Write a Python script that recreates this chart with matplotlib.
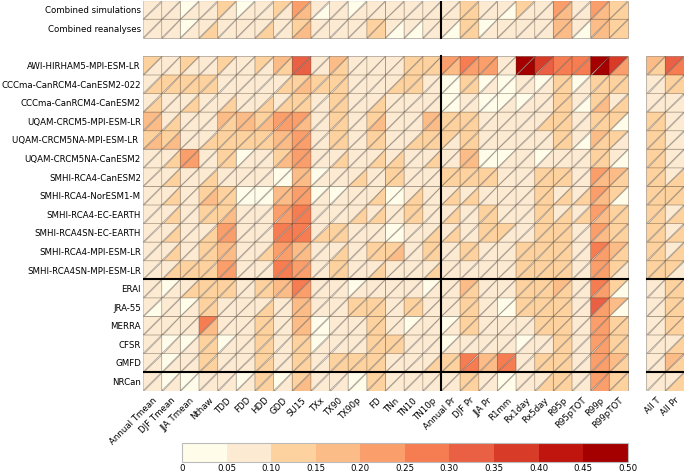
import numpy as np
import matplotlib
matplotlib.use('Agg')
import matplotlib.pyplot as plt
from matplotlib.colors import ListedColormap, BoundaryNorm
from matplotlib.collections import PolyCollection
from matplotlib.colorbar import ColorbarBase

# DATA
row_labels = ['Combined simulations', 'Combined reanalyses',
              'AWI-HIRHAM5-MPI-ESM-LR', 'CCCma-CanRCM4-CanESM2-022', 'CCCma-CanRCM4-CanESM2',
              'UQAM-CRCM5-MPI-ESM-LR', 'UQAM-CRCM5NA-MPI-ESM-LR ', 'UQAM-CRCM5NA-CanESM2',
              'SMHI-RCA4-CanESM2', 'SMHI-RCA4-NorESM1-M', 'SMHI-RCA4-EC-EARTH',
              'SMHI-RCA4SN-EC-EARTH', 'SMHI-RCA4-MPI-ESM-LR', 'SMHI-RCA4SN-MPI-ESM-LR',
              'ERAI', 'JRA-55', 'MERRA', 'CFSR', 'GMFD', 'NRCan']

index_labels = ['Annual Tmean', 'DJF Tmean', 'JJA Tmean', 'Nthaw', 'TDD', 'FDD', 'HDD', 'GDD',
                'SU15', 'TXx', 'TX90', 'TX90p', 'FD', 'TNn', 'TN10', 'TN10p',
                'Annual Pr', 'DJF Pr', 'JJA Pr', 'R1mm', 'Rx1day', 'Rx5day', 'R95p',
                'R95pTOT', 'R99p', 'R99pTOT']
summary_labels = ['All T', 'All Pr']

# upper-left triangle of each cell
upper = [
    [.08,.08,.03,.08,.12,.03,.08,.12,.22,.08,.08,.03,.08,.08,.08,.08,.08,.12,.08,.08,.12,.08,.22,.08,.22,.12],
    [.08,.08,.03,.08,.08,.08,.08,.08,.12,.08,.08,.08,.12,.08,.08,.08,.08,.12,.03,.08,.08,.08,.17,.08,.17,.12],
    [.12,.08,.12,.08,.12,.08,.12,.17,.32,.08,.17,.08,.08,.08,.12,.12,.22,.27,.22,.08,.47,.37,.27,.27,.47,.37,.17,.32],
    [.08,.12,.12,.12,.08,.08,.08,.08,.12,.12,.12,.08,.08,.08,.12,.08,.03,.12,.03,.03,.08,.03,.12,.03,.12,.12,.08,.12],
    [.08,.08,.08,.08,.08,.08,.08,.08,.12,.08,.12,.08,.08,.08,.08,.08,.03,.08,.03,.03,.03,.08,.12,.08,.12,.08,.08,.08],
    [.17,.08,.08,.08,.17,.17,.12,.22,.22,.08,.12,.08,.12,.08,.08,.17,.12,.12,.08,.08,.08,.08,.12,.08,.12,.12,.12,.08],
    [.12,.12,.08,.08,.12,.12,.12,.17,.22,.08,.12,.08,.12,.08,.08,.12,.12,.12,.08,.08,.08,.08,.12,.08,.17,.12,.12,.08],
    [.08,.08,.22,.08,.12,.03,.08,.12,.22,.08,.08,.08,.08,.08,.08,.08,.08,.17,.03,.03,.08,.03,.08,.08,.12,.08,.12,.08],
    [.08,.08,.08,.08,.08,.08,.08,.03,.17,.03,.08,.08,.08,.12,.08,.08,.12,.12,.12,.08,.08,.12,.12,.08,.22,.17,.12,.08],
    [.08,.08,.08,.12,.12,.03,.03,.17,.22,.03,.03,.08,.08,.03,.08,.08,.08,.08,.08,.08,.08,.12,.08,.08,.22,.12,.12,.12],
    [.08,.08,.08,.12,.12,.08,.08,.22,.27,.08,.08,.08,.08,.08,.12,.08,.08,.08,.12,.08,.08,.12,.08,.08,.22,.12,.12,.08],
    [.08,.08,.08,.08,.22,.08,.08,.27,.27,.08,.12,.08,.08,.03,.08,.08,.08,.08,.12,.12,.08,.12,.12,.08,.22,.12,.12,.08],
    [.08,.08,.08,.12,.17,.08,.08,.22,.17,.08,.08,.08,.12,.12,.08,.12,.08,.12,.08,.08,.12,.12,.12,.08,.27,.17,.12,.08],
    [.08,.08,.12,.12,.22,.08,.08,.27,.22,.08,.12,.08,.08,.08,.08,.08,.08,.08,.08,.08,.12,.12,.12,.08,.22,.12,.12,.12],
    [.08,.03,.08,.12,.12,.08,.12,.17,.27,.08,.08,.03,.08,.08,.08,.03,.08,.17,.08,.08,.12,.12,.17,.08,.27,.12,.08,.12],
    [.08,.08,.03,.12,.08,.08,.08,.08,.17,.08,.08,.12,.12,.08,.12,.08,.08,.12,.08,.03,.12,.12,.12,.08,.32,.17,.08,.12],
    [.08,.08,.08,.27,.08,.08,.12,.08,.17,.03,.08,.08,.12,.08,.03,.08,.03,.12,.08,.08,.08,.12,.12,.08,.22,.12,.08,.12],
    [.08,.03,.03,.12,.03,.08,.12,.08,.12,.03,.08,.08,.12,.12,.08,.08,.03,.08,.08,.08,.03,.08,.12,.08,.22,.12,.08,.08],
    [.08,.03,.08,.12,.08,.08,.12,.08,.12,.08,.12,.12,.12,.08,.08,.08,.12,.27,.17,.27,.08,.12,.12,.08,.22,.17,.08,.17],
    [.08,.03,.03,.08,.08,.03,.12,.03,.12,.08,.08,.03,.12,.08,.08,.08,.08,.12,.08,.03,.08,.08,.12,.08,.22,.12,.08,.08],
]

# lower-right triangle of each cell
lower = [
    [.08,.08,.08,.08,.08,.08,.08,.08,.17,.03,.08,.08,.08,.08,.08,.08,.08,.12,.08,.03,.08,.08,.17,.08,.17,.12],
    [.08,.08,.08,.12,.08,.08,.12,.08,.17,.08,.08,.08,.12,.03,.03,.08,.03,.12,.08,.08,.08,.08,.17,.03,.17,.12],
    [.08,.08,.08,.08,.08,.08,.08,.12,.32,.08,.12,.08,.08,.08,.12,.12,.17,.22,.22,.08,.47,.32,.27,.27,.47,.22,.12,.27],
    [.12,.12,.12,.12,.08,.08,.08,.12,.17,.12,.12,.08,.08,.12,.12,.08,.03,.12,.08,.03,.08,.08,.12,.08,.12,.12,.08,.12],
    [.12,.08,.12,.08,.12,.08,.12,.12,.12,.08,.12,.08,.12,.08,.08,.08,.03,.08,.03,.08,.08,.08,.12,.03,.17,.12,.08,.08],
    [.17,.12,.08,.08,.12,.17,.17,.22,.17,.08,.12,.08,.17,.08,.08,.17,.12,.12,.08,.08,.08,.12,.12,.08,.12,.03,.12,.08],
    [.17,.17,.08,.12,.12,.12,.12,.17,.22,.08,.12,.08,.12,.08,.12,.12,.08,.12,.08,.08,.08,.08,.12,.03,.12,.08,.12,.08],
    [.08,.12,.22,.08,.12,.08,.08,.17,.22,.08,.12,.08,.12,.12,.08,.12,.08,.17,.03,.08,.08,.08,.08,.08,.12,.03,.12,.08],
    [.08,.12,.08,.12,.08,.08,.08,.03,.17,.08,.08,.12,.08,.12,.08,.08,.12,.12,.12,.08,.08,.12,.12,.08,.17,.12,.12,.12],
    [.08,.12,.08,.17,.12,.03,.03,.17,.22,.08,.08,.08,.12,.03,.12,.08,.12,.12,.08,.08,.08,.12,.12,.12,.17,.03,.12,.12],
    [.08,.12,.08,.12,.17,.08,.08,.22,.27,.08,.08,.12,.12,.08,.12,.08,.12,.08,.12,.08,.08,.12,.12,.12,.17,.12,.12,.12],
    [.08,.12,.08,.12,.22,.08,.08,.27,.27,.12,.12,.08,.08,.03,.08,.12,.12,.08,.12,.08,.08,.12,.12,.08,.17,.12,.12,.12],
    [.08,.12,.08,.12,.17,.08,.12,.22,.17,.08,.12,.08,.12,.17,.08,.12,.08,.12,.08,.08,.12,.12,.12,.08,.22,.12,.12,.12],
    [.08,.12,.12,.12,.22,.08,.08,.27,.22,.08,.12,.08,.12,.08,.08,.12,.08,.08,.08,.08,.12,.12,.12,.08,.22,.08,.12,.08],
    [.08,.08,.12,.12,.12,.08,.12,.17,.22,.08,.08,.08,.08,.08,.08,.08,.08,.12,.08,.08,.12,.12,.12,.08,.22,.03,.08,.12],
    [.03,.08,.08,.12,.08,.08,.12,.08,.17,.08,.08,.12,.12,.08,.12,.08,.08,.12,.08,.03,.12,.12,.12,.08,.22,.03,.08,.12],
    [.08,.08,.08,.17,.08,.08,.12,.08,.17,.03,.08,.08,.12,.08,.08,.08,.08,.12,.08,.08,.08,.12,.12,.08,.22,.12,.08,.12],
    [.08,.08,.08,.12,.08,.08,.12,.08,.12,.08,.08,.08,.12,.12,.08,.08,.08,.08,.08,.08,.08,.08,.12,.08,.22,.12,.08,.12],
    [.08,.08,.08,.12,.08,.08,.12,.08,.12,.08,.12,.12,.12,.08,.08,.12,.12,.27,.17,.27,.08,.12,.12,.08,.22,.12,.08,.12],
    [.08,.08,.03,.08,.08,.08,.12,.08,.17,.08,.08,.03,.12,.08,.08,.08,.08,.12,.08,.03,.08,.12,.12,.08,.22,.12,.08,.12],
]

bounds = [0, 0.05, 0.10, 0.15, 0.20, 0.25, 0.30, 0.35, 0.40, 0.45, 0.50]
bound_labels = ['0', '0.05', '0.10', '0.15', '0.20', '0.25', '0.30', '0.35', '0.40', '0.45', '0.50']
colors = ['#fffce9', '#fdead2', '#fdd29f', '#fcbc88', '#fa9e6c',
          '#f67d52', '#ea6045', '#d83b27', '#c0150f', '#a40000']

cmap = ListedColormap(colors)
norm = BoundaryNorm(bounds, cmap.N)

# layout: blank row after the combined rows, blank column before All T / All Pr
row_pos = [0, 1] + list(range(3, 3 + len(row_labels) - 2))
col_labels = index_labels + summary_labels
col_pos = list(range(len(index_labels))) + [len(index_labels) + 1 + i for i in range(len(summary_labels))]
n_x = col_pos[-1] + 1
n_y = row_pos[-1] + 1

fig = plt.figure(figsize=(6.85, 4.72), dpi=100)
ax = fig.add_axes([0.2088, 0.1722, 0.7896, 0.8263])

polys, vals = [], []
for i, y in enumerate(row_pos):
    for j, v_up in enumerate(upper[i]):
        x = col_pos[j]
        v_lo = lower[i][j]
        # diagonal from bottom-left to top-right (y axis points down)
        polys.append([(x, y + 1), (x + 1, y), (x, y)])
        vals.append(v_up)
        polys.append([(x, y + 1), (x + 1, y + 1), (x + 1, y)])
        vals.append(v_lo)

pc = PolyCollection(polys, array=np.array(vals), cmap=cmap, norm=norm,
                    edgecolors=(0.15, 0.1, 0.05, 0.35), linewidths=0.6)
ax.add_collection(pc)

# separators
n_idx = len(index_labels)
split_col = index_labels.index('Annual Pr')
lw_sep = 1.5
ax.plot([split_col, split_col], [0, 2], color='k', lw=lw_sep)
ax.plot([split_col, split_col], [3, n_y], color='k', lw=lw_sep)
for lab in ['ERAI', 'NRCan']:
    yy = row_pos[row_labels.index(lab)]
    ax.plot([0, n_idx], [yy, yy], color='k', lw=lw_sep)
    ax.plot([col_pos[n_idx], n_x], [yy, yy], color='k', lw=lw_sep)

ax.set_xlim(0, n_x)
ax.set_ylim(n_y, 0)
ax.set_yticks([p + 0.5 for p in row_pos])
ax.set_yticklabels(row_labels, fontsize=6.25)
ax.set_xticks([p + 0.5 for p in col_pos])
ax.set_xticklabels(col_labels, fontsize=6.25, rotation=45, ha='right', rotation_mode='anchor')
ax.tick_params(axis='both', length=0)
ax.tick_params(axis='y', pad=1.5)
ax.tick_params(axis='x', pad=3.5)
for s in ax.spines.values():
    s.set_visible(False)

cax = fig.add_axes([0.2657, 0.0206, 0.6506, 0.0415])
cb = ColorbarBase(cax, cmap=cmap, norm=norm, orientation='horizontal', ticks=bounds)
cb.set_ticklabels(bound_labels)
cb.ax.tick_params(labelsize=6.25, length=0, pad=1.5)
cb.outline.set_edgecolor('#bbbbbb')
cb.outline.set_linewidth(0.8)

fig.savefig('out.png', dpi=100)
